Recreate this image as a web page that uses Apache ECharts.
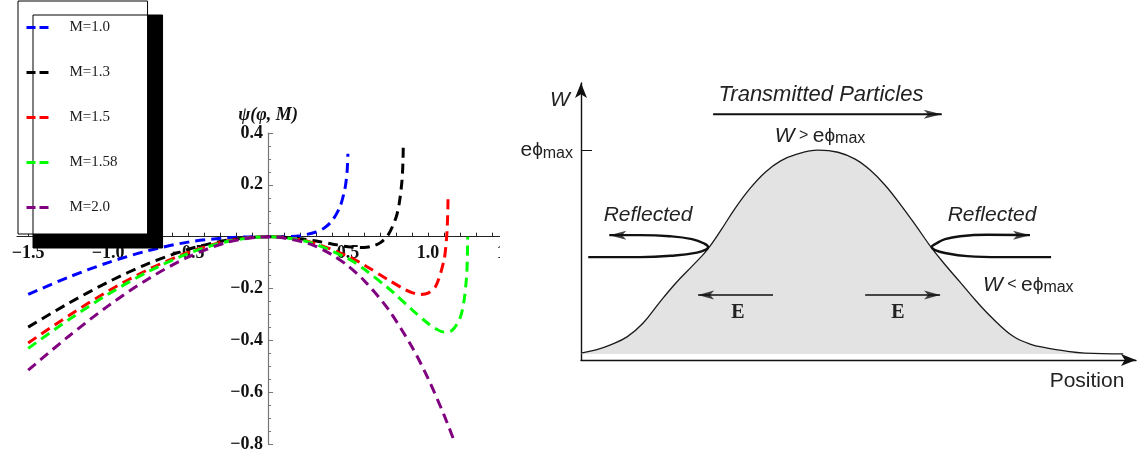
<!DOCTYPE html>
<html>
<head>
<meta charset="utf-8">
<script src="https://cdn.jsdelivr.net/npm/echarts@6/dist/echarts.min.js"></script>
<style>
  html, body { margin: 0; padding: 0; background: #ffffff; }
  #chart { width: 1144px; height: 458px; }
</style>
</head>
<body>
<div id="chart"></div>
<script>
// ---- Left panel: Sagdeev potential psi(phi, M) for several Mach numbers ----
const machLabels = ['M=1.0', 'M=1.3', 'M=1.5', 'M=1.58', 'M=2.0'];

const psiM10 = [[-1.5,-0.223],[-1.25,-0.157],[-1.0,-0.100],[-0.75,-0.054],[-0.5,-0.021],[-0.25,-0.004],
  [0,0],[0.1,0.000],[0.2,0.004],[0.3,0.018],[0.35,0.033],[0.4,0.061],[0.45,0.116],[0.48,0.184],
  [0.49,0.226],[0.495,0.260],[0.499,0.320]];
const psiM13 = [[-1.5,-0.349],[-1.25,-0.258],[-1.0,-0.175],[-0.75,-0.104],[-0.5,-0.049],[-0.25,-0.013],
  [0,0],[0.1,-0.002],[0.2,-0.008],[0.3,-0.017],[0.4,-0.028],[0.5,-0.039],[0.6,-0.042],[0.65,-0.037],
  [0.7,-0.024],[0.75,0.006],[0.8,0.074],[0.82,0.129],[0.835,0.202],[0.84,0.244],[0.843,0.284],
  [0.8445,0.322],[0.845,0.360]];
const psiM15 = [[-1.5,-0.410],[-1.25,-0.306],[-1.0,-0.210],[-0.75,-0.127],[-0.5,-0.061],[-0.25,-0.016],
  [0,0],[0.25,-0.018],[0.5,-0.076],[0.6,-0.109],[0.75,-0.166],[0.85,-0.202],[0.9,-0.216],[0.95,-0.223],
  [1.0,-0.218],[1.05,-0.189],[1.1,-0.090],[1.115,-0.012],[1.12,0.035],[1.124,0.106],[1.125,0.155]];
const psiM158 = [[-1.5,-0.431],[-1.25,-0.322],[-1.0,-0.222],[-0.75,-0.135],[-0.5,-0.065],[-0.25,-0.018],
  [0,0],[0.25,-0.020],[0.5,-0.085],[0.6,-0.125],[0.75,-0.198],[0.8,-0.225],[0.9,-0.282],[1.0,-0.335],
  [1.05,-0.356],[1.1,-0.368],[1.15,-0.362],[1.2,-0.314],[1.225,-0.248],[1.24,-0.162],[1.245,-0.103],
  [1.248,0.0]];
const psiM20 = [[-1.5,-0.515],[-1.25,-0.386],[-1.0,-0.267],[-0.75,-0.163],[-0.5,-0.079],[-0.25,-0.021],
  [0,0],[0.25,-0.026],[0.4,-0.070],[0.5,-0.113],[0.6,-0.169],[0.75,-0.279],[0.9,-0.426],[1.0,-0.547],
  [1.1,-0.688],[1.17,-0.799]];

const phiTickValues = [-1.5,-1.4,-1.3,-1.2,-1.1,-1.0,-0.9,-0.8,-0.7,-0.6,-0.5,-0.4,-0.3,-0.2,-0.1,
  0.1,0.2,0.3,0.4,0.5,0.6,0.7,0.8,0.9,1.0,1.1,1.2,1.3,1.4,1.5];
const phiLabelValues = [-1.5, -1.0, -0.5, 0.5, 1.0, 1.5];

// ---- Right panel: potential barrier W versus position ----
const barrierProfile = [[0,0.033],[2.7,0.048],[5.2,0.071],[8.3,0.110],[11.2,0.176],[14.2,0.276],
  [17.1,0.367],[20.2,0.452],[22.7,0.524],[25.1,0.614],[27.8,0.724],[30.5,0.819],[33.2,0.895],
  [35.9,0.948],[38.9,0.981],[42.7,1.0],[46.3,0.990],[49.4,0.957],[52.1,0.905],[54.8,0.833],
  [57.5,0.743],[60.4,0.638],[63.2,0.533],[65.8,0.448],[68.3,0.371],[71.2,0.281],[74.1,0.200],
  [77.8,0.114],[80.9,0.076],[84.0,0.057],[87.2,0.043],[90.8,0.033],[97.7,0.029]];
const leftLoop = [[1.3,0.490],[10.6,0.490],[16.9,0.498],[20.9,0.512],[22.5,0.526],[22.9,0.538],
  [22.2,0.555],[20.0,0.576],[16.0,0.590],[10.6,0.595],[5.1,0.595]];
const rightLoop = [[84.7,0.490],[75.5,0.490],[69.6,0.495],[65.6,0.510],[63.8,0.524],[63.2,0.538],
  [64.0,0.555],[65.6,0.576],[68.3,0.590],[73.2,0.597],[80.9,0.595]];
const transmittedArrow = [[23.8,1.171],[65.0,1.171]];
const fieldArrowLeft = [[34.6,0.310],[21.1,0.310]];
const fieldArrowRight = [[51.2,0.310],[64.7,0.310]];
const barrierTopValue = 1;

// ---- layout of the left plot ----
const PHI_MIN = -1.57, PHI_MAX = 1.5, PSI_MIN = -0.8, PSI_MAX = 0.4;
const plotBox = { left: 17, top: 133, width: 491, height: 311 };
const zeroX = plotBox.left + (0 - PHI_MIN) / (PHI_MAX - PHI_MIN) * plotBox.width;
const zeroY = plotBox.top + (PSI_MAX - 0) / (PSI_MAX - PSI_MIN) * plotBox.height;

// ---- styling helpers ----
const serif = '"Liberation Serif", "Times New Roman", serif';
const sans = '"Liberation Sans", Arial, "DejaVu Sans", sans-serif';
const curveColors = ['#0000ff', '#000000', '#ff0000', '#00ff00', '#800080'];
const fmt = v => (v < 0 ? '\u2212' : '') + Math.abs(v).toFixed(1);
const tickFont = { fontFamily: serif, fontWeight: 'bold', fontSize: 18, color: '#111' };

const headRight = 'path://M0,0L20,6L0,12L5,6Z';
const headLeft = 'path://M20,0L0,6L20,12L15,6Z';

const psiData = [psiM10, psiM13, psiM15, psiM158, psiM20];
const psiSeries = psiData.map((d, i) => ({
  type: 'line', name: machLabels[i], xAxisIndex: 0, yAxisIndex: 0,
  data: d, symbol: 'none', smooth: 0.3, z: 2 + i,
  lineStyle: { color: curveColors[i], width: 3, type: [10, 6] },
  itemStyle: { color: curveColors[i] }
}));

const arrowSpecs = [
  { path: transmittedArrow, head: [18, 9], width: 2 },
  { path: fieldArrowLeft, head: [16, 9], width: 1.4 },
  { path: fieldArrowRight, head: [16, 9], width: 1.4 },
  { path: leftLoop, head: [17, 9], width: 2.4, smooth: 0.45 },
  { path: rightLoop, head: [17, 9], width: 2.4, smooth: 0.45 }
];
const shaftSeries = arrowSpecs.map(a => ({
  type: 'line', xAxisIndex: 1, yAxisIndex: 1, data: a.path, symbol: 'none',
  smooth: a.smooth || false, z: 5, silent: true,
  lineStyle: { color: '#111', width: a.width }
}));
const headSeries = {
  type: 'scatter', xAxisIndex: 1, yAxisIndex: 1, z: 6, silent: true,
  itemStyle: { color: '#111' },
  data: arrowSpecs.map(a => {
    const n = a.path.length;
    const tip = a.path[n - 1];
    const toRight = tip[0] > a.path[n - 2][0];
    return {
      value: tip,
      symbol: toRight ? headRight : headLeft,
      symbolSize: a.head,
      symbolKeepAspect: false,
      symbolOffset: [toRight ? -a.head[0] / 2 : a.head[0] / 2, 0]
    };
  })
};

const hiddenAxis = (gridIndex, min, max) => ({ type: 'value', gridIndex, min, max, show: false });
const phiRich = {
  w: { fontFamily: sans, fontStyle: 'italic', fontSize: 21, fill: '#222', lineHeight: 22 },
  o: { fontFamily: sans, fontSize: 16, fill: '#222', lineHeight: 22 },
  e: { fontFamily: sans, fontSize: 21, fill: '#222', lineHeight: 22 },
  p: { fontFamily: sans, fontSize: 19, fill: '#222', lineHeight: 22 },
  s: { fontFamily: sans, fontSize: 16, fill: '#222', lineHeight: 12, verticalAlign: 'bottom' }
};
const label = (x, y, text, extra) => ({
  type: 'text', x, y, z: 50,
  style: Object.assign({ text, fontFamily: sans, fontStyle: 'italic', fontSize: 21, fill: '#222',
    align: 'center', verticalAlign: 'middle' }, extra || {})
});

const option = {
  animation: false,
  backgroundColor: '#ffffff',
  textStyle: { fontFamily: serif },
  legend: {
    data: machLabels, orient: 'vertical', left: 18, top: 1,
    itemWidth: 22, itemHeight: 14, itemGap: 30,
    padding: [19, 30, 19, 7],
    backgroundColor: '#ffffff', borderColor: '#000000', borderWidth: 1,
    shadowColor: '#000000', shadowBlur: 0, shadowOffsetX: 15, shadowOffsetY: 14,
    selectedMode: false,
    itemStyle: { opacity: 0 },
    lineStyle: { type: [9, 4], width: 3 },
    textStyle: { fontFamily: serif, fontSize: 15, color: '#1a1a1a', lineHeight: 14, padding: [0, 0, 0, 16] }
  },
  grid: [
    Object.assign({ outerBoundsMode: 'none' }, plotBox),
    { left: 581, top: 83, width: 555, height: 277, outerBoundsMode: 'none' },
    // vertical psi axis placed at phi = 0
    { left: zeroX, top: plotBox.top, width: 50, height: plotBox.height, outerBoundsMode: 'none' },
    // horizontal phi axis placed at psi = 0
    { left: plotBox.left, top: plotBox.top, width: plotBox.width, height: zeroY - plotBox.top, outerBoundsMode: 'none' }
  ],
  xAxis: [
    hiddenAxis(0, PHI_MIN, PHI_MAX),
    {
      type: 'value', gridIndex: 1, min: 0, max: 100,
      axisLine: { onZero: false, symbol: ['none', 'arrow'], symbolSize: [9, 15],
        lineStyle: { color: '#111', width: 1.4 } },
      axisTick: { show: false }, axisLabel: { show: false }, splitLine: { show: false }
    },
    hiddenAxis(2, 0, 1),
    {
      type: 'value', gridIndex: 3, min: PHI_MIN, max: PHI_MAX, position: 'bottom',
      axisLine: { onZero: false, lineStyle: { color: '#222', width: 1 } },
      axisTick: { show: true, inside: true, length: 4, customValues: phiTickValues,
        lineStyle: { color: '#222', width: 1 } },
      axisLabel: Object.assign({ customValues: phiLabelValues, formatter: fmt, margin: 8 }, tickFont),
      splitLine: { show: false }
    }
  ],
  yAxis: [
    hiddenAxis(0, PSI_MIN, PSI_MAX),
    {
      type: 'value', gridIndex: 1, min: 0, max: 1.32, interval: 1,
      axisLine: { onZero: false, symbol: ['none', 'arrow'], symbolSize: [9, 15],
        lineStyle: { color: '#111', width: 1.4 } },
      axisTick: { show: true, inside: true, length: 11, customValues: [barrierTopValue],
        lineStyle: { color: '#111', width: 1 } },
      axisLabel: {
        customValues: [barrierTopValue], margin: 8,
        formatter: v => (v === barrierTopValue ? '{e|e}{p|\u03d5}{s|max}' : ''),
        rich: {
          e: { fontFamily: sans, fontSize: 21, color: '#222', lineHeight: 22 },
          p: { fontFamily: sans, fontSize: 19, color: '#222', lineHeight: 22 },
          s: { fontFamily: sans, fontSize: 16, color: '#222', lineHeight: 12, verticalAlign: 'bottom' }
        }
      },
      splitLine: { show: false }
    },
    {
      type: 'value', gridIndex: 2, min: PSI_MIN, max: PSI_MAX, interval: 0.2, position: 'left',
      name: '\u03c8(\u03c6, M)', nameLocation: 'end', nameGap: 8,
      nameTextStyle: { fontFamily: serif, fontWeight: 'bold', fontStyle: 'italic', fontSize: 18, color: '#111' },
      axisLine: { onZero: false, lineStyle: { color: '#777', width: 1.2 } },
      axisTick: { show: true, inside: true, length: 5, lineStyle: { color: '#777', width: 1 } },
      minorTick: { show: true, splitNumber: 4, length: 3, lineStyle: { color: '#777', width: 1 } },
      axisLabel: Object.assign({ formatter: v => (Math.abs(v) < 1e-9 ? '' : fmt(v)), margin: 5 }, tickFont),
      splitLine: { show: false }
    },
    hiddenAxis(3, 0, 1)
  ],
  graphic: [
    { type: 'rect', z: 100, shape: { x: 500, y: 222, width: 40, height: 50 }, style: { fill: '#ffffff' } },
    label(560, 100, 'W'),
    label(821, 95, 'Transmitted Particles', { fontSize: 22 }),
    label(820, 136, '{w|W}{o| > }{e|e}{p|\u03d5}{s|max}', { rich: phiRich }),
    label(648, 215, 'Reflected'),
    label(992, 215, 'Reflected'),
    label(983, 285, '{w|W}{o| < }{e|e}{p|\u03d5}{s|max}', { rich: phiRich, align: 'left' }),
    label(738, 313, 'E', { fontFamily: serif, fontStyle: 'normal', fontWeight: 'bold', fontSize: 20 }),
    label(898, 313, 'E', { fontFamily: serif, fontStyle: 'normal', fontWeight: 'bold', fontSize: 20 }),
    label(1087, 381, 'Position', { fontStyle: 'normal' })
  ],
  series: [
    ...psiSeries,
    {
      type: 'line', xAxisIndex: 1, yAxisIndex: 1, data: barrierProfile, symbol: 'none',
      smooth: 0.4, z: 3, silent: true,
      lineStyle: { color: '#1a1a1a', width: 1.3 },
      areaStyle: { color: '#e3e3e3', opacity: 1, origin: 0.029 }
    },
    ...shaftSeries,
    headSeries
  ]
};

const chart = echarts.init(document.getElementById('chart'), null, { renderer: 'canvas' });
chart.setOption(option);
</script>
</body>
</html>
